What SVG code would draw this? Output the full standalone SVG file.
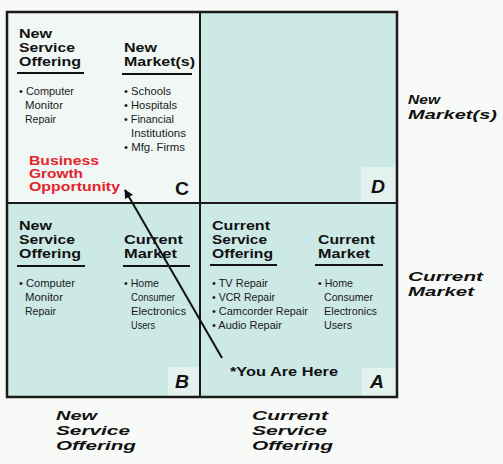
<svg xmlns="http://www.w3.org/2000/svg" width="503" height="464" viewBox="0 0 503 464">
  <style>
    .hd { font-family: "Liberation Sans", Arial, sans-serif; font-weight: bold; font-size: 13px; fill: #111; }
    .bd { font-family: "Liberation Sans", Arial, sans-serif; font-size: 11px; fill: #1a1a1a; }
    .red { font-family: "Liberation Sans", Arial, sans-serif; font-weight: bold; font-size: 12.5px; fill: #e3242b; }
    .ax { font-family: "Liberation Sans", Arial, sans-serif; font-weight: bold; font-style: italic; font-size: 13.5px; fill: #111; }
    .let { font-family: "Liberation Sans", Arial, sans-serif; font-weight: bold; font-size: 18px; fill: #111; }
    .it { font-style: italic; }
    .rule { stroke: #111; stroke-width: 2; }
    .cell { fill: #cce9e5; }
    .tag { fill: #e4f2ef; }
  </style>
  <defs>
    <marker id="head" viewBox="0 0 10 10" refX="9" refY="5" markerWidth="4.5" markerHeight="4.5" orient="auto" markerUnits="strokeWidth">
      <path d="M0,0 L10,5 L0,10 z" fill="#111"/>
    </marker>
  </defs>

  <rect x="0" y="0" width="503" height="464" fill="#f8faf8"/>

  <!-- C: new service, new market -->
  <g id="quadC">
    <rect x="7" y="12" width="193" height="191" fill="#f1f7f5"/>
    <text class="hd" x="19" y="38" textLength="33" lengthAdjust="spacingAndGlyphs">New</text>
    <text class="hd" x="19" y="52" textLength="56" lengthAdjust="spacingAndGlyphs">Service</text>
    <text class="hd" x="19" y="66" textLength="62" lengthAdjust="spacingAndGlyphs">Offering</text>
    <line class="rule" x1="17" y1="73" x2="84" y2="73"/>
    <text class="hd" x="124" y="52" textLength="33" lengthAdjust="spacingAndGlyphs">New</text>
    <text class="hd" x="124" y="66" textLength="71" lengthAdjust="spacingAndGlyphs">Market(s)</text>
    <line class="rule" x1="122" y1="74" x2="192" y2="74"/>
    <text class="bd" x="19" y="95" textLength="55" lengthAdjust="spacingAndGlyphs">• Computer</text>
    <text class="bd" x="25" y="109" textLength="38" lengthAdjust="spacingAndGlyphs">Monitor</text>
    <text class="bd" x="25" y="123" textLength="31" lengthAdjust="spacingAndGlyphs">Repair</text>
    <text class="bd" x="124" y="95" textLength="47" lengthAdjust="spacingAndGlyphs">• Schools</text>
    <text class="bd" x="124" y="109" textLength="53" lengthAdjust="spacingAndGlyphs">• Hospitals</text>
    <text class="bd" x="124" y="123" textLength="50" lengthAdjust="spacingAndGlyphs">• Financial</text>
    <text class="bd" x="131" y="137" textLength="55" lengthAdjust="spacingAndGlyphs">Institutions</text>
    <text class="bd" x="124" y="151" textLength="61" lengthAdjust="spacingAndGlyphs">• Mfg. Firms</text>
    <text class="red" x="29" y="165" textLength="70" lengthAdjust="spacingAndGlyphs">Business</text>
    <text class="red" x="29" y="178" textLength="54" lengthAdjust="spacingAndGlyphs">Growth</text>
    <text class="red" x="29" y="191" textLength="91" lengthAdjust="spacingAndGlyphs">Opportunity</text>
    <text class="let" x="175" y="195" textLength="14" lengthAdjust="spacingAndGlyphs">C</text>
  </g>

  <!-- D: current service, new market (empty) -->
  <g id="quadD">
    <rect class="cell" x="200" y="12" width="197" height="191"/>
    <rect class="tag" x="361" y="167" width="36" height="36"/>
    <text class="let it" x="371" y="193" textLength="14" lengthAdjust="spacingAndGlyphs">D</text>
  </g>

  <!-- B: new service, current market -->
  <g id="quadB">
    <rect class="cell" x="7" y="203" width="193" height="194"/>
    <rect class="tag" x="168" y="367" width="32" height="30"/>
    <text class="hd" x="19" y="230" textLength="33" lengthAdjust="spacingAndGlyphs">New</text>
    <text class="hd" x="19" y="244" textLength="56" lengthAdjust="spacingAndGlyphs">Service</text>
    <text class="hd" x="19" y="258" textLength="62" lengthAdjust="spacingAndGlyphs">Offering</text>
    <line class="rule" x1="17" y1="266" x2="85" y2="266"/>
    <text class="hd" x="124" y="244" textLength="59" lengthAdjust="spacingAndGlyphs">Current</text>
    <text class="hd" x="124" y="258" textLength="53" lengthAdjust="spacingAndGlyphs">Market</text>
    <line class="rule" x1="123" y1="266" x2="190" y2="266"/>
    <text class="bd" x="19" y="287" textLength="56" lengthAdjust="spacingAndGlyphs">• Computer</text>
    <text class="bd" x="25" y="301" textLength="38" lengthAdjust="spacingAndGlyphs">Monitor</text>
    <text class="bd" x="25" y="315" textLength="31" lengthAdjust="spacingAndGlyphs">Repair</text>
    <text class="bd" x="124" y="287" textLength="35" lengthAdjust="spacingAndGlyphs">• Home</text>
    <text class="bd" x="131" y="301" textLength="44" lengthAdjust="spacingAndGlyphs">Consumer</text>
    <text class="bd" x="131" y="315" textLength="55" lengthAdjust="spacingAndGlyphs">Electronics</text>
    <text class="bd" x="131" y="329" textLength="24" lengthAdjust="spacingAndGlyphs">Users</text>
    <text class="let it" x="175" y="388" textLength="14" lengthAdjust="spacingAndGlyphs">B</text>
  </g>

  <!-- A: current service, current market -->
  <g id="quadA">
    <rect class="cell" x="200" y="203" width="197" height="194"/>
    <rect class="tag" x="362" y="368" width="35" height="29"/>
    <text class="hd" x="212" y="230" textLength="58" lengthAdjust="spacingAndGlyphs">Current</text>
    <text class="hd" x="212" y="244" textLength="55" lengthAdjust="spacingAndGlyphs">Service</text>
    <text class="hd" x="212" y="258" textLength="61" lengthAdjust="spacingAndGlyphs">Offering</text>
    <line class="rule" x1="210" y1="265" x2="277" y2="265"/>
    <text class="hd" x="318" y="244" textLength="57" lengthAdjust="spacingAndGlyphs">Current</text>
    <text class="hd" x="318" y="258" textLength="52" lengthAdjust="spacingAndGlyphs">Market</text>
    <line class="rule" x1="315" y1="265" x2="383" y2="265"/>
    <text class="bd" x="212" y="287" textLength="56" lengthAdjust="spacingAndGlyphs">• TV Repair</text>
    <text class="bd" x="212" y="301" textLength="63" lengthAdjust="spacingAndGlyphs">• VCR Repair</text>
    <text class="bd" x="212" y="315" textLength="96" lengthAdjust="spacingAndGlyphs">• Camcorder Repair</text>
    <text class="bd" x="212" y="329" textLength="70" lengthAdjust="spacingAndGlyphs">• Audio Repair</text>
    <text class="bd" x="318" y="287" textLength="35" lengthAdjust="spacingAndGlyphs">• Home</text>
    <text class="bd" x="324" y="301" textLength="49" lengthAdjust="spacingAndGlyphs">Consumer</text>
    <text class="bd" x="324" y="315" textLength="53" lengthAdjust="spacingAndGlyphs">Electronics</text>
    <text class="bd" x="324" y="329" textLength="28" lengthAdjust="spacingAndGlyphs">Users</text>
    <text class="hd" x="230" y="376" font-size="14" textLength="108" lengthAdjust="spacingAndGlyphs">*You Are Here</text>
    <text class="let it" x="370" y="388" textLength="14" lengthAdjust="spacingAndGlyphs">A</text>
  </g>

  <!-- grid frame and dividers -->
  <g id="frame" fill="none" stroke="#1a1a1a">
    <rect x="7" y="12" width="390" height="385" stroke-width="2.5"/>
    <line x1="200" y1="12" x2="200" y2="397" stroke-width="2"/>
    <line x1="7" y1="203" x2="397" y2="203" stroke-width="2"/>
  </g>

  <!-- axis labels -->
  <g id="axisMarket">
    <text class="ax" x="408" y="104" textLength="32" lengthAdjust="spacingAndGlyphs">New</text>
    <text class="ax" x="408" y="119" textLength="89" lengthAdjust="spacingAndGlyphs">Market(s)</text>
    <text class="ax" x="408" y="281" textLength="75" lengthAdjust="spacingAndGlyphs">Current</text>
    <text class="ax" x="408" y="296" textLength="66" lengthAdjust="spacingAndGlyphs">Market</text>
  </g>
  <g id="axisService">
    <text class="ax" x="56" y="420" textLength="41" lengthAdjust="spacingAndGlyphs">New</text>
    <text class="ax" x="56" y="435" textLength="74" lengthAdjust="spacingAndGlyphs">Service</text>
    <text class="ax" x="56" y="450" textLength="80" lengthAdjust="spacingAndGlyphs">Offering</text>
    <text class="ax" x="252" y="420" textLength="76" lengthAdjust="spacingAndGlyphs">Current</text>
    <text class="ax" x="252" y="435" textLength="75" lengthAdjust="spacingAndGlyphs">Service</text>
    <text class="ax" x="252" y="450" textLength="81" lengthAdjust="spacingAndGlyphs">Offering</text>
  </g>

  <!-- growth path connector -->
  <g id="connectors">
    <line x1="222" y1="358" x2="125" y2="190" stroke="#111" stroke-width="2" marker-end="url(#head)"/>
  </g>
</svg>
